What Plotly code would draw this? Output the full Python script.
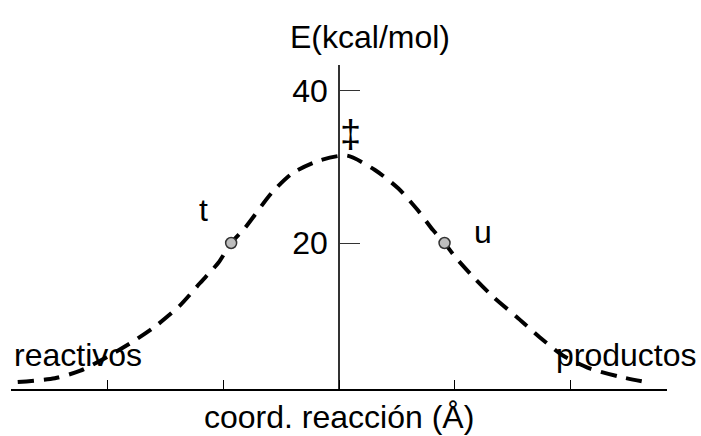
import plotly.graph_objects as go

# Reaction coordinate (arbitrary units, ticks at ±1, ±2) and energy (kcal/mol)
curve_x = [-2.77, -2.45, -2.23, -2.06, -1.78, -1.57, -1.37, -1.20, -1.04, -0.93,
           -0.81, -0.58, -0.40, -0.16, 0.07, 0.31, 0.51, 0.68, 0.81, 0.91,
           1.00, 1.16, 1.33, 1.53, 1.73, 1.93, 2.16, 2.42, 2.68]
curve_y = [1.7, 2.2, 3.2, 4.5, 7.0, 9.2, 11.8, 14.7, 17.4, 20.0,
           22.0, 26.6, 29.2, 30.9, 31.5, 29.6, 27.2, 24.3, 21.7, 20.0,
           18.2, 15.5, 12.9, 10.3, 7.6, 5.2, 3.5, 2.4, 1.6]

point_x = [-0.93, 0.91]
point_y = [20.0, 20.0]
point_labels = ["t", "u"]

x_ticks = [-2, -1, 0, 1, 2]
y_ticks = [20, 40]
y_tick_labels = ["20", "40"]

FONT = "Liberation Sans, Arial, sans-serif"
FS = 32

fig = go.Figure()

fig.add_trace(go.Scatter(
    x=curve_x, y=curve_y, mode="lines",
    line=dict(color="black", width=4, dash="16px,10px", shape="spline", smoothing=0.7),
    hoverinfo="skip", showlegend=False,
))

fig.add_trace(go.Scatter(
    x=point_x, y=point_y, mode="markers",
    marker=dict(size=11, color="#bdbdbd", line=dict(color="#333333", width=1.5)),
    showlegend=False,
))

annotations = [
    dict(text="E(kcal/mol)", x=0.547, y=1.086, xref="paper", yref="paper", showarrow=False,
         xanchor="center", yanchor="middle"),
    dict(text="‡", x=0.10, y=34.4, xref="x", yref="y", showarrow=False,
         xanchor="center", yanchor="middle", font=dict(size=38)),
    dict(text=point_labels[0], x=-1.17, y=24.3, xref="x", yref="y", showarrow=False,
         xanchor="center", yanchor="middle"),
    dict(text=point_labels[1], x=1.24, y=21.5, xref="x", yref="y", showarrow=False,
         xanchor="center", yanchor="middle"),
    dict(text="reactivos", x=-2.25, y=5.2, xref="x", yref="y", showarrow=False,
         xanchor="center", yanchor="middle"),
    dict(text="productos", x=2.475, y=5.2, xref="x", yref="y", showarrow=False,
         xanchor="center", yanchor="middle"),
    dict(text="coord. reacción (Å)", x=0.5, y=-0.085, xref="paper", yref="paper",
         showarrow=False, xanchor="center", yanchor="middle"),
]

fig.update_layout(
    width=701, height=436,
    margin=dict(l=11, r=34, t=65, b=47),
    paper_bgcolor="white", plot_bgcolor="white",
    font=dict(family=FONT, size=FS, color="black"),
    annotations=annotations,
    xaxis=dict(
        range=[-2.828, 2.828], showgrid=False, zeroline=False,
        showline=True, linecolor="black", linewidth=2,
        ticks="inside", ticklen=9, tickwidth=1, tickcolor="black",
        tickvals=x_ticks, showticklabels=False,
    ),
    yaxis=dict(
        range=[0.79, 43.42], showgrid=False, zeroline=False,
        anchor="free", position=0.5,
        showline=True, linecolor="#333333", linewidth=1.5,
        ticks="inside", ticklen=20, tickwidth=1, tickcolor="#333333",
        tickvals=y_ticks, ticktext=y_tick_labels, ticklabelstandoff=4,
        tickfont=dict(family=FONT, size=FS, color="black"),
    ),
)

fig.write_html("out.html")
